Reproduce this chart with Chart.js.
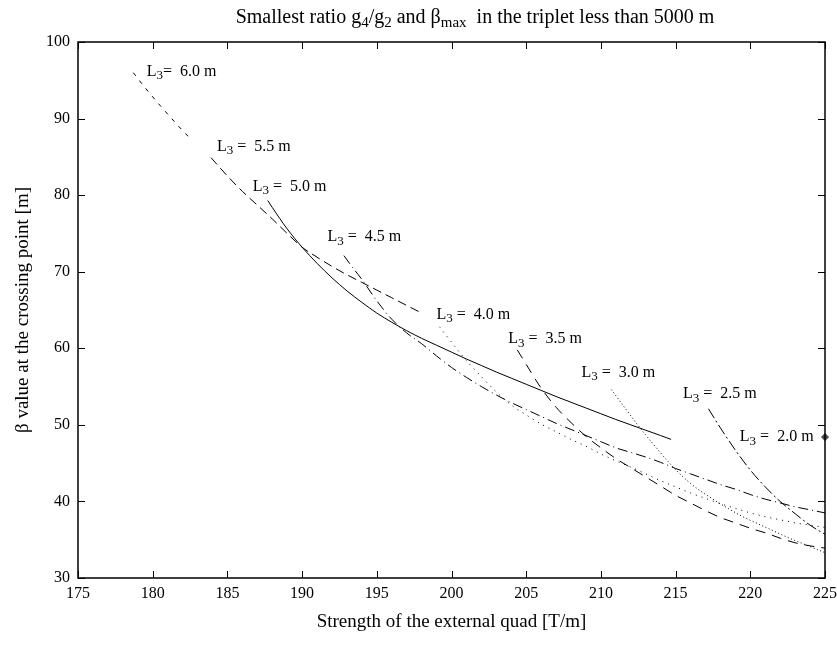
<!DOCTYPE html>
<html><head><meta charset="utf-8">
<script src="https://cdn.jsdelivr.net/npm/chart.js@4/dist/chart.umd.min.js"></script>
<style>html,body{margin:0;padding:0;background:#fff}</style>
</head><body>
<canvas id="c" width="837" height="647"></canvas>
<script>
// ---- data ----
const xTicks = [175,180,185,190,195,200,205,210,215,220,225];
const yTicks = [30,40,50,60,70,80,90,100];
const curveNames = ['6.0','5.5','5.0','4.5','4.0','3.5','3.0','2.5','2.0'];

const x60 = [178.7,179.5,180.5,181.5,182.6];
const y60 = [96.0,94.0,91.7,89.5,87.2];

const x55 = [183.9,185,186,187,188,189,190,191,192,193,194,195,196,197,197.9];
const y55 = [84.9,82.5,80.5,78.7,76.9,75.0,73.2,71.9,70.7,69.6,68.6,67.6,66.6,65.6,64.7];

const x50 = [187.7,188,189,190,191,192,193,194,195,196,197,198,199,200,201,202,203,204,205,206,207,208,209,210,211,212,213,214,214.7];
const y50 = [79.3,78.4,75.6,73.2,71.1,69.2,67.5,66.0,64.6,63.4,62.3,61.3,60.4,59.5,58.6,57.75,56.9,56.1,55.3,54.5,53.7,52.95,52.2,51.45,50.7,50.0,49.3,48.6,48.1];

const x45 = [192.8,193.4,194,195,196,197,198,199,200,201,202,203,204,205,206,207,208,209,210,211,212,213,214,215,216,217,218,219,220,221,222,223,224,225];
const y45 = [72.1,70.5,69.0,66.2,63.8,62.0,60.6,59.0,57.5,56.2,55.0,53.9,52.9,52.0,51.1,50.2,49.4,48.6,47.8,47.0,46.4,45.8,45.1,44.3,43.6,42.9,42.2,41.6,40.9,40.3,39.8,39.3,38.9,38.5];

const x40 = [199.2,200,201,202,203,204,205,206,207,208,209,210,211,212,213,214,215,216,217,218,219,220,221,222,223,224,225];
const y40 = [62.8,60.8,58.4,56.3,54.3,52.6,51.3,50.1,49.1,48.1,47.2,46.2,45.3,44.5,43.6,42.7,41.9,41.1,40.4,39.7,39.1,38.5,38.0,37.6,37.2,36.9,36.6];

const x35 = [204.4,205,206,207,208,209,210,211,212,213,214,215,216,217,218,219,220,221,222,223,224,225];
const y35 = [59.8,57.9,54.8,52.3,50.3,48.5,47.0,45.6,44.4,43.2,42.0,40.8,39.8,38.8,37.9,37.2,36.5,35.9,35.2,34.6,34.2,33.9];

const x30 = [210.7,211.5,212.5,213.5,214.5,215.5,216.5,217.5,218.5,219.5,220.5,221.5,222.5,223.5,224.5,225];
const y30 = [54.6,52.5,49.9,47.5,45.2,43.2,41.6,40.3,39.1,38.0,37.1,36.2,35.3,34.5,33.7,33.3];

const x25 = [217.2,218,219,220,221,222,223,224,225];
const y25 = [52.1,49.6,46.7,44.1,41.9,40.0,38.4,36.9,35.7];

const x20 = [225];
const y20 = [48.4];

// label anchors (data coords: left edge, vertical middle)
const labelX = [179.6,184.3,186.7,191.7,199.0,203.8,208.7,215.5,219.3];
const labelY = [96.1,86.3,81.1,74.5,64.4,61.2,56.8,54.0,48.4];

// ---- build ----
const xs = [x60,x55,x50,x45,x40,x35,x30,x25,x20];
const ys = [y60,y55,y50,y45,y40,y35,y30,y25,y20];
const dashes = [[4,6],[9,5],[],[10,4,1,4],[1,5],[10,7],[1,2.5],[11,3,2,3],[]];

const datasets = xs.map((xa,i)=>({
  label:'L3 = '+curveNames[i]+' m',
  data: xa.map((v,j)=>({x:v,y:ys[i][j]})),
  borderColor:'#000',
  borderWidth:1,
  borderDash:dashes[i],
  pointRadius: i===8 ? 3.5 : 0,
  pointStyle:'rectRot',
  pointBackgroundColor:'#444',
  pointBorderColor:'#444',
  showLine: i!==8,
  cubicInterpolationMode:'monotone',
  clip: i===8 ? false : undefined,
  fill:false
}));

const SERIF = '"Liberation Serif", "Times New Roman", serif';

function drawRich(ctx, parts, x, y, size, subSize, subDy){
  let cx = x;
  parts.forEach(p=>{
    ctx.font = (p.s ? subSize : size) + 'px ' + SERIF;
    ctx.fillText(p.t, cx, y + (p.s ? subDy : 0));
    cx += ctx.measureText(p.t).width;
  });
  return cx - x;
}
function richWidth(ctx, parts, size, subSize){
  let w=0;
  parts.forEach(p=>{ctx.font=(p.s?subSize:size)+'px '+SERIF; w+=ctx.measureText(p.t).width;});
  return w;
}

const decor = {
  id:'decor',
  afterDatasetsDraw(chart){
    const {ctx, chartArea:a, scales:{x,y}} = chart;
    ctx.save();
    ctx.strokeStyle='#000';
    ctx.lineWidth=1;
    ctx.beginPath();
    const tl=7;
    xTicks.forEach(v=>{
      const px=Math.round(x.getPixelForValue(v))+0.5;
      ctx.moveTo(px,a.bottom); ctx.lineTo(px,a.bottom-tl);
      ctx.moveTo(px,a.top); ctx.lineTo(px,a.top+tl);
    });
    yTicks.forEach(v=>{
      const py=Math.round(y.getPixelForValue(v))+0.5;
      ctx.moveTo(a.left,py); ctx.lineTo(a.left+tl,py);
      ctx.moveTo(a.right,py); ctx.lineTo(a.right-tl,py);
    });
    ctx.stroke();
    ctx.lineWidth=1.5;
    ctx.strokeRect(a.left,a.top,a.right-a.left,a.bottom-a.top);

    // curve labels
    ctx.fillStyle='#000';
    ctx.textBaseline='middle';
    ctx.textAlign='left';
    curveNames.forEach((n,i)=>{
      const parts = [{t:'L'},{t:'3',s:1},{t:(i===0?'=  ':' =  ')+n+' m'}];
      drawRich(ctx, parts, x.getPixelForValue(labelX[i]), y.getPixelForValue(labelY[i]), 16, 13, 4);
    });

    // title
    const tparts=[{t:'Smallest ratio g'},{t:'4',s:1},{t:'/g'},{t:'2',s:1},{t:' and β'},{t:'max',s:1},{t:'  in the triplet less than 5000 m'}];
    const tw = richWidth(ctx,tparts,20,15);
    drawRich(ctx,tparts,475 - tw/2, 18, 20, 15, 5);
    ctx.restore();
  }
};

new Chart(document.getElementById('c'),{
  type:'line',
  data:{datasets},
  plugins:[decor],
  options:{
    responsive:false,
    devicePixelRatio:1,
    animation:false,
    layout:{padding:{top:42,right:12,left:0,bottom:0}},
    plugins:{legend:{display:false},tooltip:{enabled:false},title:{display:false}},
    scales:{
      x:{type:'linear',min:175,max:225,
        afterFit:s=>{s.height=69; s.paddingLeft=0; s.paddingRight=0;},
        afterBuildTicks:s=>{s.ticks=xTicks.map(v=>({value:v}));},
        grid:{display:false,drawTicks:false},border:{display:false},
        ticks:{padding:6,color:'#000',font:{family:SERIF,size:16},maxRotation:0,autoSkip:false},
        title:{display:true,text:'Strength of the external quad [T/m]',color:'#000',font:{family:SERIF,size:19},padding:{top:0,bottom:14}}
      },
      y:{type:'linear',min:30,max:100,
        afterFit:s=>{s.width=78; s.paddingTop=0; s.paddingBottom=0;},
        afterBuildTicks:s=>{s.ticks=yTicks.map(v=>({value:v}));},
        grid:{display:false,drawTicks:false},border:{display:false},
        ticks:{padding:8,color:'#000',font:{family:SERIF,size:16},autoSkip:false},
        title:{display:true,text:'β value at the crossing point [m]',color:'#000',font:{family:SERIF,size:19},padding:{top:12,bottom:0}}
      }
    }
  }
});
</script>
</body></html>
